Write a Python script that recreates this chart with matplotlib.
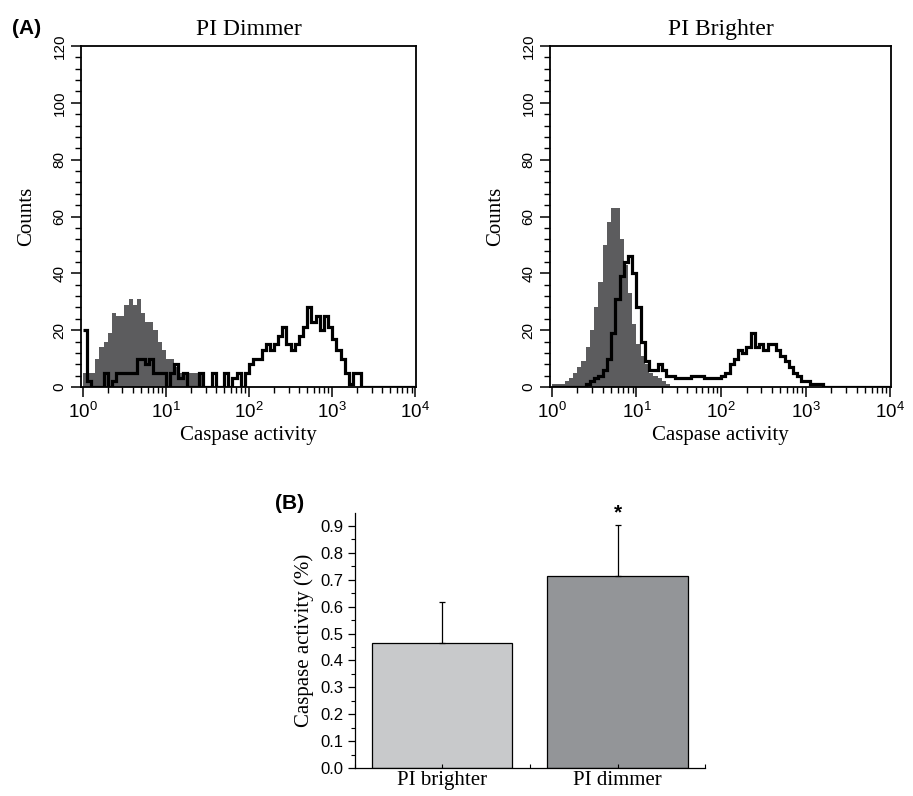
#!/usr/bin/env python3
"""Flow cytometry caspase histograms (PI dimmer / PI brighter) plus bar summary."""

import matplotlib
matplotlib.use("Agg")
import matplotlib.pyplot as plt
import numpy as np
from matplotlib.ticker import MultipleLocator, LogLocator, NullFormatter

# histogram channels: 0.05-decade bins from 10^0 to 10^4
bin_step = 0.05
n_bins = 80

# PI dimmer panel: grey = control, black outline = sample
dim_control = [5, 5, 5, 10, 14, 16, 19, 26, 25, 25,
               29, 31, 29, 31, 26, 23, 23, 20, 16, 13,
               10, 10, 7, 5, 5, 5, 5, 5, 5]
dim_sample = [20, 2, 0, 0, 0, 5, 0, 2, 5, 5,
              5, 5, 5, 10, 10, 8, 10, 5, 5, 5,
              0, 5, 8, 3, 5, 0, 0, 0, 5, 0,
              0, 5, 0, 0, 5, 0, 3, 5, 0, 5,
              8, 10, 10, 13, 15, 13, 15, 18, 21, 15,
              13, 15, 18, 21, 28, 23, 25, 20, 25, 21,
              17, 13, 10, 5, 1, 5, 5]

# PI brighter panel
bright_control = [1, 1, 1, 2, 3, 5, 7, 9, 14, 20,
                  28, 37, 50, 58, 63, 63, 52, 43, 33, 22,
                  15, 11, 8, 5, 4, 3, 2, 1]
bright_sample = [0, 0, 0, 0, 0, 0, 0, 0, 1, 2,
                 3, 4, 6, 10, 19, 31, 39, 44, 46, 40,
                 28, 16, 9, 6, 6, 8, 6, 4, 4, 3,
                 3, 3, 3, 4, 4, 4, 3, 3, 3, 3,
                 4, 5, 8, 10, 13, 12, 14, 19, 14, 15,
                 13, 15, 15, 13, 11, 9, 7, 5, 4, 2,
                 2, 1, 1, 1]

# panel B
bar_labels = ["PI brighter", "PI dimmer"]
bar_values = [0.465, 0.713]
bar_errors = [0.153, 0.189]
bar_colors = ["#c8c9cb", "#939598"]

SERIF = ["Liberation Serif", "DejaVu Serif"]
SANS = ["Liberation Sans", "DejaVu Sans"]
plt.rcParams["font.family"] = SANS
plt.rcParams["mathtext.fontset"] = "custom"
plt.rcParams["mathtext.rm"] = "Liberation Sans"


def pad(vals):
    out = np.zeros(n_bins)
    out[:len(vals)] = vals
    return out


def hist_panel(ax, control, sample, title):
    edges = 10 ** (np.arange(n_bins + 1) * bin_step)
    ax.stairs(pad(control), edges, fill=True, color="#5c5c5e", lw=0)
    ax.stairs(pad(sample), edges, color="black", lw=2.3, baseline=None)
    ax.set_xscale("log")
    ax.set_xlim(0.95, 1.02e4)
    ax.set_ylim(0, 120)
    ax.yaxis.set_major_locator(MultipleLocator(20))
    ax.yaxis.set_minor_locator(MultipleLocator(4))
    ax.xaxis.set_major_locator(LogLocator(base=10, numticks=10))
    ax.xaxis.set_minor_locator(LogLocator(base=10, subs=np.arange(2, 10), numticks=10))
    ax.xaxis.set_minor_formatter(NullFormatter())
    ax.tick_params(which="major", direction="out", length=7, width=1.1, labelsize=13.5)
    ax.tick_params(which="minor", direction="out", length=4, width=1.0)
    ax.tick_params(axis="y", which="major", labelsize=11)
    for lab in ax.get_yticklabels():
        lab.set_rotation(90)
        lab.set_va("center")
    for spine in ax.spines.values():
        spine.set_linewidth(1.3)
    ax.set_title(title, family=SERIF, fontsize=17, pad=8)
    ax.set_xlabel("Caspase activity", family=SERIF, fontsize=15, labelpad=3)
    ax.set_ylabel("Counts", family=SERIF, fontsize=15, labelpad=12)


fig = plt.figure(figsize=(9.13, 7.96), dpi=100)
ax_dim = fig.add_axes([0.0887, 0.5138, 0.367, 0.4284])
ax_bright = fig.add_axes([0.6024, 0.5138, 0.3735, 0.4284])
hist_panel(ax_dim, dim_control, dim_sample, "PI Dimmer")
hist_panel(ax_bright, bright_control, bright_sample, "PI Brighter")

ax_bar = fig.add_axes([0.3888, 0.0352, 0.3834, 0.3203])
pos = np.arange(len(bar_labels))
ax_bar.bar(pos, bar_values, width=0.8, color=bar_colors, edgecolor="black", linewidth=0.9)
ax_bar.errorbar(pos, bar_values, yerr=[[0, 0], bar_errors], fmt="none",
                ecolor="black", elinewidth=0.9, capsize=2.5, capthick=0.9)
ax_bar.text(pos[1], bar_values[1] + bar_errors[1] + 0.012, "*", ha="center", va="bottom",
            fontsize=15, fontweight="bold")
ax_bar.set_xlim(-0.5, 1.5)
ax_bar.set_ylim(0, 0.948)
ax_bar.set_xticks(pos)
ax_bar.set_xticklabels(bar_labels, family=SERIF, fontsize=15)
ax_bar.xaxis.set_minor_locator(MultipleLocator(0.5))
ax_bar.yaxis.set_major_locator(MultipleLocator(0.1))
ax_bar.yaxis.set_minor_locator(MultipleLocator(0.05))
ax_bar.yaxis.set_major_formatter(plt.FormatStrFormatter("%.1f"))
ax_bar.tick_params(axis="y", which="major", direction="out", length=5, width=0.9, labelsize=12)
ax_bar.tick_params(axis="y", which="minor", direction="out", length=3, width=0.8)
ax_bar.tick_params(axis="x", which="both", direction="in", length=3, width=0.8, pad=2)
ax_bar.spines["top"].set_visible(False)
ax_bar.spines["right"].set_visible(False)
for side in ("left", "bottom"):
    ax_bar.spines[side].set_linewidth(0.9)
ax_bar.set_ylabel("Caspase activity (%)", family=SERIF, fontsize=15, labelpad=4)

fig.text(0.013, 0.964, "(A)", fontsize=15, fontweight="bold", va="center")
fig.text(0.301, 0.368, "(B)", fontsize=15, fontweight="bold", va="center")

fig.savefig("out.png", dpi=100)
